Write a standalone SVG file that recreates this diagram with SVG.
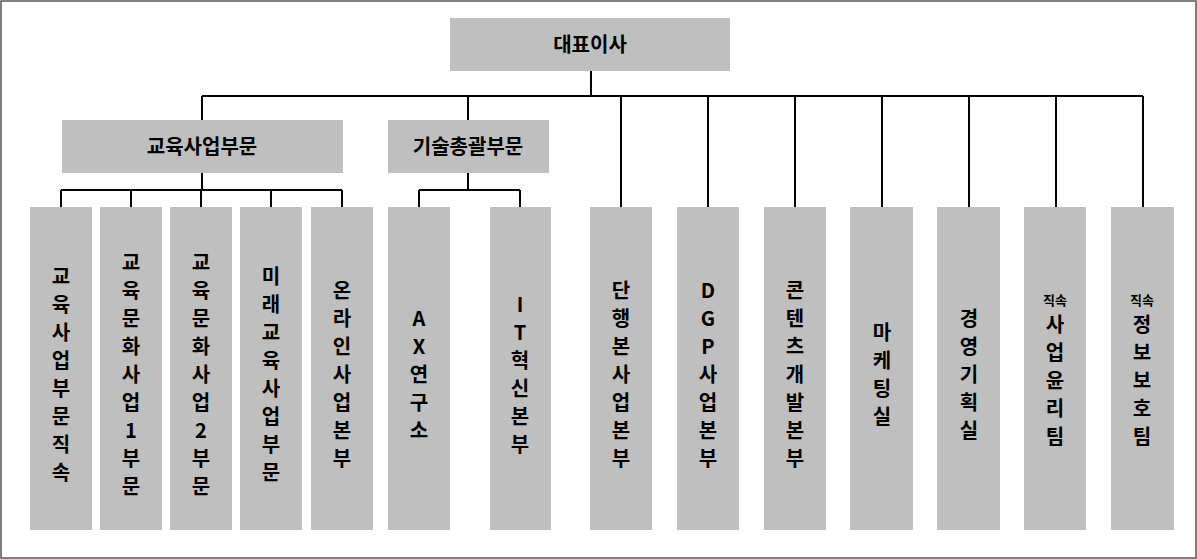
<svg xmlns="http://www.w3.org/2000/svg" width="1197" height="559" viewBox="0 0 1197 559">
<style>
.b{fill:#bfbfbf}
.t{font-family:"Noto Sans CJK KR","Liberation Sans",sans-serif;font-weight:bold;font-size:20px;fill:#000;text-anchor:middle}
.s{font-size:13px}
.c{stroke:#000;stroke-width:2;fill:none}
</style>
<rect x="1" y="1" width="1195" height="557" fill="#fff" stroke="#555" stroke-width="1.5"/>
<g id="connectors" class="c">
<path d="M591 71V96M202 96H1143M202 96V120M468 96V120M621 96V207M708 96V207M795 96V207M882 96V207M969 96V207M1056 96V207M1143 96V207"/>
<path d="M202 173V190M61 190H342M61 190V207M131 190V207M201 190V207M271 190V207M342 190V207"/>
<path d="M468 173V190M419 190H520M419 190V207M520 190V207"/>
</g>
<g id="ceo"><rect class="b" x="450" y="18" width="280" height="53"/><text class="t" x="590" y="52">대표이사</text></g>
<g id="edu"><rect class="b" x="62" y="120" width="281" height="53"/><text class="t" x="202" y="154">교육사업부문</text></g>
<g id="tech"><rect class="b" x="388" y="120" width="161" height="53"/><text class="t" x="468" y="154">기술총괄부문</text></g>
<g id="n1"><rect class="b" x="30" y="207" width="62" height="323"/><text class="t" x="61" y="284"><tspan x="61">교</tspan><tspan x="61" dy="28">육</tspan><tspan x="61" dy="28">사</tspan><tspan x="61" dy="28">업</tspan><tspan x="61" dy="28">부</tspan><tspan x="61" dy="28">문</tspan><tspan x="61" dy="28">직</tspan><tspan x="61" dy="28">속</tspan></text></g>
<g id="n2"><rect class="b" x="100" y="207" width="62" height="323"/><text class="t" x="131" y="270"><tspan x="131">교</tspan><tspan x="131" dy="28">육</tspan><tspan x="131" dy="28">문</tspan><tspan x="131" dy="28">화</tspan><tspan x="131" dy="28">사</tspan><tspan x="131" dy="28">업</tspan><tspan x="131" dy="28">1</tspan><tspan x="131" dy="28">부</tspan><tspan x="131" dy="28">문</tspan></text></g>
<g id="n3"><rect class="b" x="170" y="207" width="62" height="323"/><text class="t" x="201" y="270"><tspan x="201">교</tspan><tspan x="201" dy="28">육</tspan><tspan x="201" dy="28">문</tspan><tspan x="201" dy="28">화</tspan><tspan x="201" dy="28">사</tspan><tspan x="201" dy="28">업</tspan><tspan x="201" dy="28">2</tspan><tspan x="201" dy="28">부</tspan><tspan x="201" dy="28">문</tspan></text></g>
<g id="n4"><rect class="b" x="240" y="207" width="62" height="323"/><text class="t" x="271" y="284"><tspan x="271">미</tspan><tspan x="271" dy="28">래</tspan><tspan x="271" dy="28">교</tspan><tspan x="271" dy="28">육</tspan><tspan x="271" dy="28">사</tspan><tspan x="271" dy="28">업</tspan><tspan x="271" dy="28">부</tspan><tspan x="271" dy="28">문</tspan></text></g>
<g id="n5"><rect class="b" x="311" y="207" width="62" height="323"/><text class="t" x="342" y="298"><tspan x="342">온</tspan><tspan x="342" dy="28">라</tspan><tspan x="342" dy="28">인</tspan><tspan x="342" dy="28">사</tspan><tspan x="342" dy="28">업</tspan><tspan x="342" dy="28">본</tspan><tspan x="342" dy="28">부</tspan></text></g>
<g id="n6"><rect class="b" x="388" y="207" width="62" height="323"/><text class="t" x="419" y="326"><tspan x="419">A</tspan><tspan x="419" dy="28">X</tspan><tspan x="419" dy="28">연</tspan><tspan x="419" dy="28">구</tspan><tspan x="419" dy="28">소</tspan></text></g>
<g id="n7"><rect class="b" x="490" y="207" width="61" height="323"/><text class="t" x="520" y="312"><tspan x="520">I</tspan><tspan x="520" dy="28">T</tspan><tspan x="520" dy="28">혁</tspan><tspan x="520" dy="28">신</tspan><tspan x="520" dy="28">본</tspan><tspan x="520" dy="28">부</tspan></text></g>
<g id="n8"><rect class="b" x="590" y="207" width="62" height="323"/><text class="t" x="621" y="298"><tspan x="621">단</tspan><tspan x="621" dy="28">행</tspan><tspan x="621" dy="28">본</tspan><tspan x="621" dy="28">사</tspan><tspan x="621" dy="28">업</tspan><tspan x="621" dy="28">본</tspan><tspan x="621" dy="28">부</tspan></text></g>
<g id="n9"><rect class="b" x="677" y="207" width="62" height="323"/><text class="t" x="708" y="298"><tspan x="708">D</tspan><tspan x="708" dy="28">G</tspan><tspan x="708" dy="28">P</tspan><tspan x="708" dy="28">사</tspan><tspan x="708" dy="28">업</tspan><tspan x="708" dy="28">본</tspan><tspan x="708" dy="28">부</tspan></text></g>
<g id="n10"><rect class="b" x="764" y="207" width="62" height="323"/><text class="t" x="795" y="298"><tspan x="795">콘</tspan><tspan x="795" dy="28">텐</tspan><tspan x="795" dy="28">츠</tspan><tspan x="795" dy="28">개</tspan><tspan x="795" dy="28">발</tspan><tspan x="795" dy="28">본</tspan><tspan x="795" dy="28">부</tspan></text></g>
<g id="n11"><rect class="b" x="850" y="207" width="63" height="323"/><text class="t" x="882" y="340"><tspan x="882">마</tspan><tspan x="882" dy="28">케</tspan><tspan x="882" dy="28">팅</tspan><tspan x="882" dy="28">실</tspan></text></g>
<g id="n12"><rect class="b" x="937" y="207" width="63" height="323"/><text class="t" x="969" y="326"><tspan x="969">경</tspan><tspan x="969" dy="28">영</tspan><tspan x="969" dy="28">기</tspan><tspan x="969" dy="28">획</tspan><tspan x="969" dy="28">실</tspan></text></g>
<g id="n13"><rect class="b" x="1024" y="207" width="62" height="323"/><text class="t s" x="1055" y="305">직속</text><text class="t" x="1055" y="332"><tspan x="1055">사</tspan><tspan x="1055" dy="28">업</tspan><tspan x="1055" dy="28">윤</tspan><tspan x="1055" dy="28">리</tspan><tspan x="1055" dy="28">팀</tspan></text></g>
<g id="n14"><rect class="b" x="1111" y="207" width="63" height="323"/><text class="t s" x="1142" y="305">직속</text><text class="t" x="1142" y="332"><tspan x="1142">정</tspan><tspan x="1142" dy="28">보</tspan><tspan x="1142" dy="28">보</tspan><tspan x="1142" dy="28">호</tspan><tspan x="1142" dy="28">팀</tspan></text></g>
</svg>
